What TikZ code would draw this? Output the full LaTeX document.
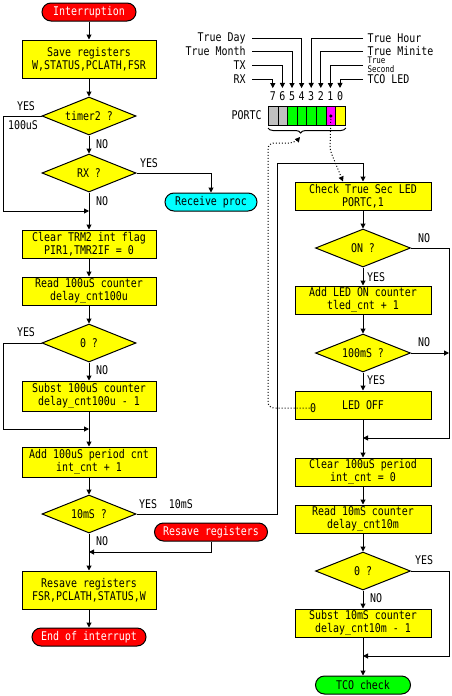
\documentclass[tikz,border=0pt]{standalone}
\usepackage{fontspec}
\setmonofont[FakeStretch=0.83]{DejaVu Sans Mono}
\usepackage{tikz}
\usetikzlibrary{shapes.geometric,arrows.meta,decorations.pathreplacing}
\definecolor{cgray}{RGB}{192,192,192}
\definecolor{cyel}{RGB}{255,255,0}
\definecolor{cred}{RGB}{255,0,0}
\definecolor{ccyan}{RGB}{0,255,255}
\definecolor{cgreen}{RGB}{0,255,0}
\definecolor{cmag}{RGB}{255,0,255}

\begin{document}
\begin{tikzpicture}[x=1pt, y=-1pt, line width=1pt, >={Triangle[length=5pt,width=5pt]},
  font=\ttfamily\fontsize{12}{13}\selectfont]
\tikzstyle{box}=[draw, fill=cyel, minimum width=134pt, minimum height=28pt, align=center, inner sep=1pt];
\tikzstyle{cond}=[draw, fill=cyel, shape=diamond, aspect=2.5, minimum width=94pt, minimum height=38pt, inner sep=0pt];
\tikzstyle{term}=[draw, rounded corners=9pt, minimum height=18pt, inner sep=2pt];
\tikzstyle{lbl}=[inner sep=0pt];
\tikzstyle{cell}=[draw, minimum width=9.6pt, minimum height=19pt, inner sep=0pt, anchor=north west];
\useasboundingbox (0,0) rectangle (451,696);
% left column
\path (89,12) node[term, fill=cred, text=white, minimum width=94pt] (int) {Interruption};
\path (89,59) node[box, minimum height=38pt] (save) {Save registers\\W,STATUS,PCLATH,FSR};
\path (89,116) node[cond] (tmr) {timer2 ?};
\path (89,173) node[cond] (rx) {RX ?};
\path (211,202) node[term, fill=ccyan, minimum width=92pt] (recv) {Receive proc};
\path (89,244) node[box] (clr) {Clear TRM2 int flag\\PIR1,TMR2IF = 0};
\path (89,291) node[box] (rd) {Read 100uS counter\\delay\_cnt100u};
\path (89,343) node[cond] (zero) {0 ?};
\path (89,396) node[box, minimum height=30pt] (sub) {Subst 100uS counter\\delay\_cnt100u - 1};
\path (89,462) node[box, minimum height=30pt] (add) {Add 100uS period cnt\\int\_cnt + 1};
\path (89,514) node[cond] (ten) {10mS ?};
\path (211,532) node[term, fill=cred, text=white, minimum width=113pt] (resv) {Resave registers};
\path (89,590) node[box, minimum height=38pt] (rest) {Resave registers\\FSR,PCLATH,STATUS,W};
\path (89,637) node[term, fill=cred, text=white, minimum width=114pt] (eoi) {End of interrupt};
% right column
\path (363,196) node[box, minimum width=136pt] (chk) {Check True Sec LED\\PORTC,1};
\path (363,248) node[cond, minimum width=95pt] (on) {ON ?};
\path (363,300) node[box, minimum width=136pt] (led) {Add LED ON counter\\tled\_cnt + 1};
\path (363,353) node[cond, minimum width=95pt] (hund) {100mS ?};
\path (363,405) node[box, minimum width=136pt] (off) {LED OFF};
\path (313,408) node[lbl] (zr) {0};
\path (363,472) node[box, minimum width=136pt] (clrc) {Clear 100uS period\\int\_cnt = 0};
\path (363,519) node[box, minimum width=136pt] (rdm) {Read 10mS counter\\delay\_cnt10m};
\path (363,571) node[cond, minimum width=95pt] (zerom) {0 ?};
\path (363,623) node[box, minimum width=136pt] (subm) {Subst 10mS counter\\delay\_cnt10m - 1};
\path (363,685) node[term, fill=cgreen, minimum width=95pt] (tco) {TCO check};
% PORTC
\foreach \b/\c in {7/cgray,6/cgray,5/cgreen,4/cgreen,3/cgreen,2/cgreen,1/cmag,0/cyel} {
  \path ({268+9.6*(7-\b)},106) node[cell, fill=\c] (c\b) {};
  \path ({272.8+9.6*(7-\b)},96) node[lbl] (b\b) {\b};
}
\fill (c1.center) circle (1.8pt);
\path (262,115) node[lbl, anchor=east] (portc) {PORTC};
\path (246,38) node[lbl, anchor=east] (day) {True Day};
\path (246,51) node[lbl, anchor=east] (mon) {True Month};
\path (246,65) node[lbl, anchor=east] (tx) {TX};
\path (246,79) node[lbl, anchor=east] (rxp) {RX};
\path (367,38) node[lbl, anchor=west] (hr) {True Hour};
\path (367,51) node[lbl, anchor=west] (mi) {True Minite};
\path (367,65) node[lbl, anchor=west, align=left, font=\ttfamily\fontsize{9}{9}\selectfont] (sc) {True\\Second};
\path (367,79) node[lbl, anchor=west] (tcl) {TCO LED};
\draw[->, shorten >=3pt] ([xshift=6pt]day.east) -| (b4);
\draw[->, shorten >=3pt] ([xshift=6pt]mon.east) -| (b5);
\draw[->, shorten >=3pt] ([xshift=6pt]tx.east) -| (b6);
\draw[->, shorten >=3pt] ([xshift=6pt]rxp.east) -| (b7);
\draw[->, shorten >=3pt] ([xshift=-4pt]hr.west) -| (b3);
\draw[->, shorten >=3pt] ([xshift=-4pt]mi.west) -| (b2);
\draw[->, shorten >=3pt] ([xshift=-4pt]sc.west) -| (b1);
\draw[->, shorten >=3pt] ([xshift=-4pt]tcl.west) -| (b0);
\draw[decorate, decoration={brace, mirror, amplitude=5pt, aspect=0.42}] ([yshift=-2pt]c7.south west) -- ([yshift=-2pt]c0.south east);
\coordinate (tip) at (300,137);
\draw[dotted, ->, rounded corners=6pt] (zr.west) -| (268,143) -- (295,143) -- (tip);
\draw[dotted, ->, rounded corners=4pt] (c1.center) -- (330,150) -- ([xshift=-20pt]chk.north);
% connectors
\coordinate (m1) at (89,211);
\coordinate (m2) at (89,429);
\coordinate (m3) at (89,552);
\coordinate (m4) at (363,438);
\coordinate (m5) at (363,656);
\coordinate (m6) at (449,353);
\draw[->] (int) -- (save);
\draw[->] (save) -- (tmr);
\draw[->] (tmr) -- (rx);
\draw[->] (rx) -- (clr);
\draw[->] (clr) -- (rd);
\draw[->] (rd) -- (zero);
\draw[->] (zero) -- (sub);
\draw[->] (sub) -- (add);
\draw[->] (add) -- (ten);
\draw[->] (ten) -- (rest);
\draw[->] (rest) -- (eoi);
\draw[->] (tmr.west) -| (3,211) -- (m1);
\draw[->] (rx.east) -| (recv.north);
\draw[->] (zero.west) -| (3,429) -- (m2);
\draw[->] (resv.south) |- (m3);
\draw[->] (ten.east) -| (277,163) -| (chk.north);
\draw[->] (chk) -- (on);
\draw[->] (on) -- (led);
\draw[->] (led) -- (hund);
\draw[->] (hund) -- (off);
\draw[->] (off) -- (clrc);
\draw[->] (clrc) -- (rdm);
\draw[->] (rdm) -- (zerom);
\draw[->] (zerom) -- (subm);
\draw[->] (subm) -- (tco);
\draw[->] (on.east) -| (449,438) -- (m4);
\draw[->] (hund.east) -- (m6);
\draw[->] (zerom.east) -| (449,656) -- (m5);
% labels
\path (26,106) node[lbl] {YES};
\path (23,125) node[lbl] {100uS};
\path (102,144) node[lbl] {NO};
\path (149,163) node[lbl] {YES};
\path (102,201) node[lbl] {NO};
\path (26,332) node[lbl] {YES};
\path (102,370) node[lbl] {NO};
\path (166,504) node[lbl] {YES\ \ 10mS};
\path (102,541) node[lbl] {NO};
\path (424,238) node[lbl] {NO};
\path (376,277) node[lbl] {YES};
\path (424,342) node[lbl] {NO};
\path (376,380) node[lbl] {YES};
\path (424,560) node[lbl] {YES};
\path (376,598) node[lbl] {NO};
\end{tikzpicture}
\end{document}
